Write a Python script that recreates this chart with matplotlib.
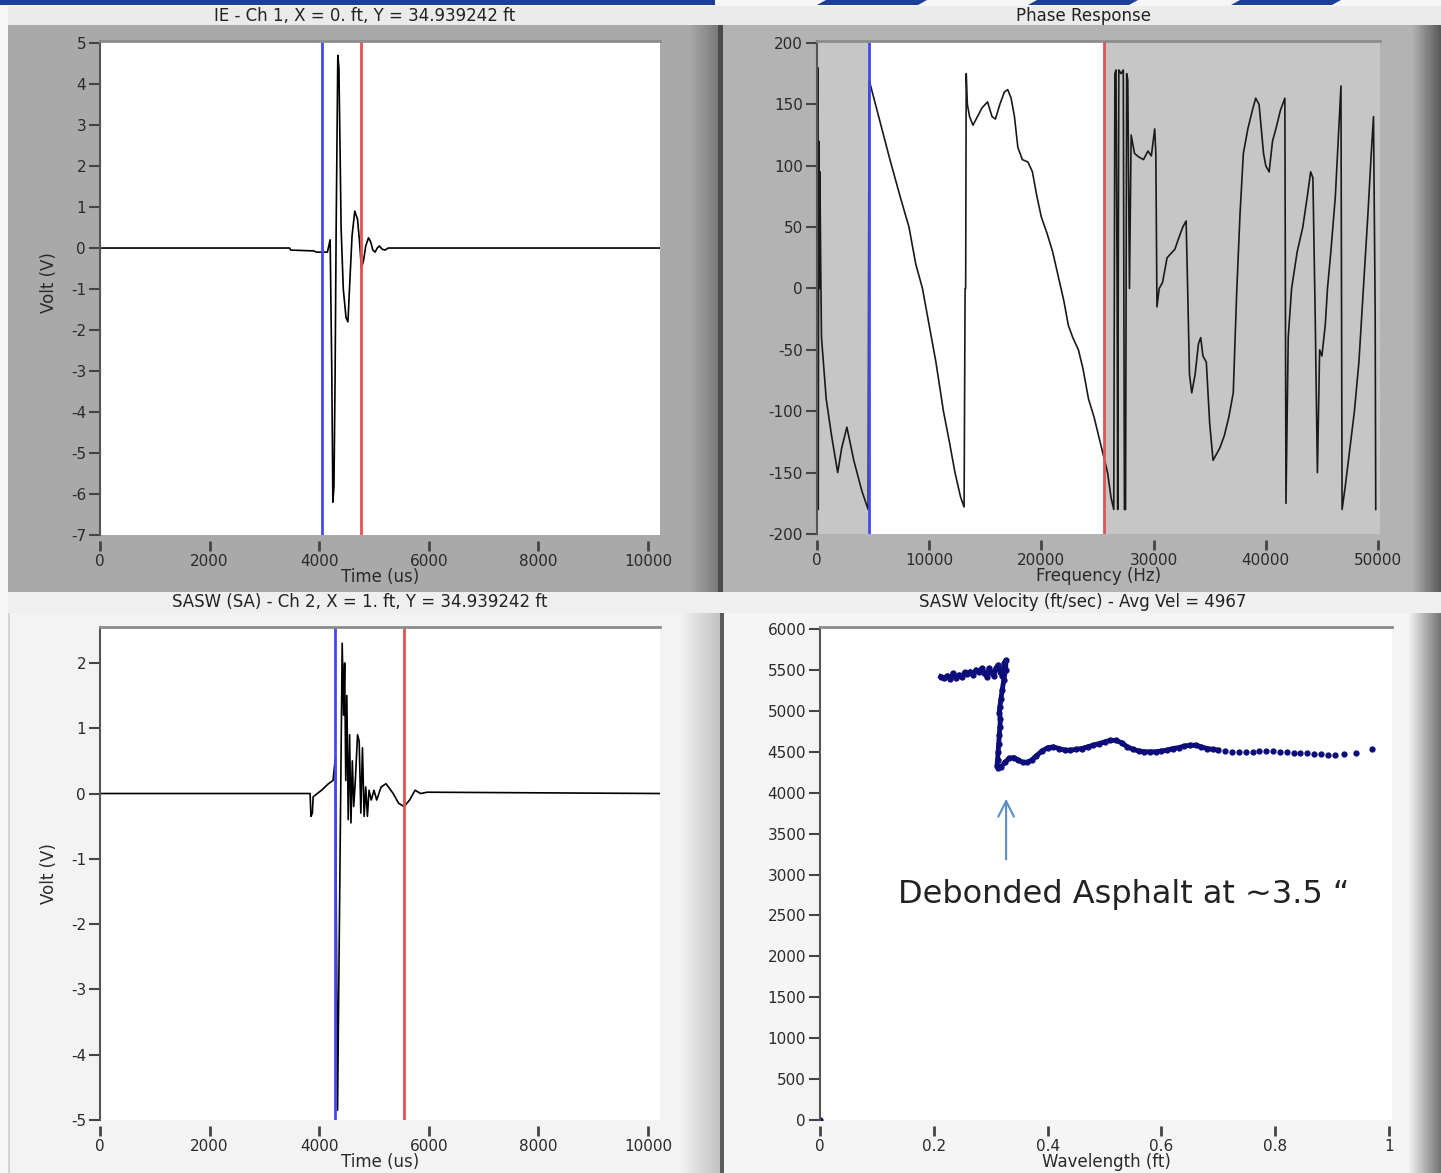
import matplotlib
matplotlib.use('Agg')
import matplotlib.pyplot as plt
from matplotlib.patches import Rectangle, Polygon
import numpy as np

plt.rcParams['axes.unicode_minus'] = False

W, H = 1441, 1173

# ---- top-left: IE channel 1 waveform (time us, volts)
ie_time = [0, 3460, 3480, 3900, 3950, 4150, 4200, 4230, 4250, 4270, 4290, 4310, 4340, 4360,
           4380, 4400, 4440, 4490, 4525, 4560, 4600, 4650, 4700, 4740, 4770, 4810, 4850,
           4900, 4940, 4980, 5020, 5060, 5100, 5150, 5200, 5260, 10220]
ie_volt = [0, 0, -0.05, -0.07, -0.1, -0.1, 0.2, -3.0, -6.2, -5.8, -3.2, 0.5, 4.7, 4.4,
           2.5, 0.5, -1.0, -1.7, -1.8, -0.8, 0.3, 0.9, 0.7, 0.1, -0.5, -0.3, 0.05,
           0.25, 0.15, -0.05, -0.1, 0.0, 0.05, -0.03, -0.05, 0.0, 0.0]
ie_cursors = [4051, 4763]

# ---- top-right: phase response (Hz, degrees)
ph_freq = [0, 60, 110, 160, 210, 260, 330, 400, 820, 1300, 1844, 2200, 2664, 3278, 4000, 4560,
           4640, 5500, 6500, 7500, 8200, 8800, 9400, 10000, 10600, 11270, 11800, 12300, 12800, 13110,
           13200, 13250, 13300, 13400, 13600, 13900, 14300, 14700, 15200, 15600, 15900, 16300,
           16700, 17000, 17300, 17600, 17900, 18300, 18800, 19200, 19600, 20000, 20500, 21000,
           21500, 22000, 22400, 22800, 23300, 23700, 24200, 24700, 25100, 25500, 25900, 26200,
           26450, 26550, 26650, 26750, 26800, 26900, 27100, 27300, 27400, 27500, 27600, 27700,
           27850, 28000, 28300, 28700, 29100, 29500, 29800, 30100, 30200, 30300, 30500, 30800,
           31200, 31500, 31900, 32200, 32600, 32900, 33000, 33200, 33400, 33700, 34000, 34200,
           34400, 34700, 35000, 35300, 35600, 35900, 36300, 36700, 37100, 37400, 37700, 38000,
           38400, 38800, 39100, 39400, 39600, 39800, 40000, 40300, 40600, 40900, 41300, 41700,
           41800, 42000, 42300, 42800, 43300, 43700, 44000, 44200, 44400, 44600, 44800, 45000,
           45300, 45500, 45800, 46200, 46500, 46700, 46800, 47100, 47500, 47900, 48300, 48700,
           49100, 49400, 49600, 49750, 49800]
ph_deg = [0, 180, -180, 120, 0, 95, 20, -40, -90, -120, -150, -130, -113, -140, -165, -180,
          170, 140, 105, 72, 50, 20, 0, -30, -60, -100, -125, -150, -170, -178,
          0, 0, 175, 150, 140, 133, 140, 147, 152, 140, 138, 150,
          160, 162, 155, 140, 115, 105, 103, 95, 75, 58, 45, 30,
          10, -10, -30, -40, -50, -65, -90, -105, -120, -135, -150, -170,
          -180, 175, 178, 0, -180, 178, 175, 178, -180, -180, 175, 170,
          0, 125, 110, 107, 105, 112, 108, 130, 110, -15, 0, 5,
          25, 28, 32, 40, 50, 55, 15, -70, -85, -70, -45, -40,
          -55, -60, -110, -140, -135, -130, -120, -105, -85, -5, 60, 110,
          130, 145, 155, 150, 130, 110, 100, 95, 120, 130, 145, 155,
          -175, -40, 0, 30, 50, 75, 95, 90, -20, -150, -50, -55,
          -30, 0, 30, 75, 130, 165, -180, -160, -130, -100, -60, 0,
          60, 110, 140, -20, -180]
ph_cursors = [4635, 25580]

# ---- bottom-left: SASW channel 2 waveform
sa_time = [0, 3834, 3850, 3876, 3890, 4043, 4169, 4253, 4295, 4320, 4335, 4420, 4445, 4465,
           4485, 4505, 4530, 4555, 4580, 4605, 4630, 4660, 4700, 4730, 4760, 4790, 4820,
           4850, 4880, 4910, 4950, 5000, 5050, 5130, 5220, 5350, 5450, 5550, 5650, 5750,
           5850, 5970, 10220]
sa_volt = [0, 0, -0.35, -0.3, -0.05, 0.05, 0.15, 0.2, 0.55, -2.8, -4.85, 2.3, 1.2, 2.0,
           0.2, 1.5, -0.4, 0.9, -0.45, 0.5, -0.2, 0.2, 0.9, 0.8, -0.3, 0.7, -0.35,
           0.1, -0.35, 0.05, -0.1, 0.05, -0.1, 0.1, 0.15, 0.0, -0.15, -0.2, -0.1, 0.05,
           0.0, 0.02, 0.0]
sa_cursors = [4288, 5547]

# ---- bottom-right: SASW dispersion (wavelength ft, velocity ft/s)
wl = [0.0, 0.212, 0.218, 0.224, 0.229, 0.234, 0.239, 0.244, 0.249, 0.254, 0.259, 0.264, 0.269,
      0.274, 0.279, 0.284, 0.289, 0.293, 0.297, 0.301, 0.305, 0.309, 0.313, 0.317, 0.320,
      0.324, 0.327, 0.326, 0.323, 0.320, 0.318, 0.316, 0.315, 0.317, 0.316, 0.315, 0.314,
      0.313, 0.312, 0.311, 0.313, 0.318, 0.325, 0.332, 0.340, 0.348, 0.356, 0.364, 0.372,
      0.380, 0.390, 0.400, 0.410, 0.420, 0.430, 0.440, 0.450, 0.460, 0.470, 0.480, 0.490,
      0.500, 0.510, 0.520, 0.530, 0.540, 0.550, 0.560, 0.570, 0.580, 0.590, 0.600, 0.610,
      0.620, 0.630, 0.640, 0.650, 0.660, 0.670, 0.680, 0.690, 0.700, 0.712, 0.724, 0.736,
      0.748, 0.760, 0.772, 0.784, 0.796, 0.808, 0.820, 0.832, 0.844, 0.856, 0.868, 0.880,
      0.892, 0.904, 0.920, 0.942, 0.970]
vel = [0, 5420, 5400, 5430, 5390, 5460, 5400, 5440, 5410, 5470, 5450, 5480, 5440,
       5500, 5470, 5520, 5460, 5420, 5520, 5470, 5430, 5520, 5560, 5480, 5430,
       5580, 5620, 5500, 5380, 5250, 5150, 5050, 4980, 4900, 4800, 4700, 4600,
       4500, 4400, 4330, 4300, 4320, 4370, 4420, 4430, 4400, 4370, 4370, 4400,
       4450, 4510, 4550, 4560, 4540, 4520, 4520, 4530, 4540, 4560, 4580, 4600,
       4620, 4640, 4640, 4610, 4560, 4530, 4510, 4500, 4500, 4500, 4510, 4520,
       4540, 4550, 4570, 4580, 4580, 4560, 4540, 4530, 4520, 4510, 4500, 4500,
       4500, 4500, 4510, 4510, 4510, 4500, 4500, 4490, 4490, 4480, 4470, 4470,
       4460, 4460, 4470, 4480, 4540]

fig = plt.figure(figsize=(W / 100, H / 100), dpi=100)
fig.patch.set_facecolor('#f6f6f6')

# background layer in pixel coordinates for the LabVIEW style panels
bg = fig.add_axes([0, 0, 1, 1], zorder=-5)
bg.axis('off')
def box(x, y, w, h, c):
    bg.add_patch(Rectangle((x, y), w, h, facecolor=c, edgecolor='none', zorder=1))

def shade(x0, x1, y0, y1, g0, g1):
    # horizontal grey ramp, g0 -> g1 (0 black .. 1 white)
    bg.imshow(np.linspace(g0, g1, 64)[None, :], extent=(x0, x1, y1, y0), zorder=2,
              cmap='gray', vmin=0, vmax=1, aspect='auto', interpolation='bilinear')

box(0, 0, 715, 5, '#1c3f97')
for x0 in [826, 1037, 1240]:
    bg.add_patch(Polygon([(x0, 0), (x0 + 101, 0), (x0 + 92, 5), (x0 - 9, 5)],
                         facecolor='#1c3f97', edgecolor='none'))
box(8, 6, 1433, 19, '#ebebeb')
box(8, 592, 1433, 21, '#efefef')
# top panels
box(8, 25, 712, 567, '#a9a9a9')
shade(690, 718, 25, 592, 0.66, 0.48)
box(718, 25, 5, 567, '#4a4a4a')
box(723, 25, 718, 567, '#b3b3b3')
shade(1412, 1441, 25, 592, 0.70, 0.35)
# bottom panels
box(8, 613, 712, 560, '#f3f3f3')
box(8, 613, 2, 560, '#d4d4d4')
shade(680, 720, 613, 1173, 0.95, 0.76)
box(720, 613, 4, 560, '#5a5a5a')
box(724, 613, 717, 560, '#f5f5f5')
shade(1408, 1441, 613, 1173, 0.96, 0.45)
bg.set_xlim(0, W)
bg.set_ylim(H, 0)

def px_axes(left, top, right, bottom):
    return fig.add_axes([left / W, 1 - bottom / H, (right - left) / W, (bottom - top) / H])

def style(ax):
    ax.spines['right'].set_visible(False)
    ax.spines['bottom'].set_visible(False)
    ax.spines['bottom'].set_position(('outward', 4))
    ax.spines['top'].set_color('#8c8c8c')
    ax.spines['top'].set_linewidth(2)
    ax.spines['left'].set_color('#555555')
    ax.spines['left'].set_linewidth(1.5)
    ax.tick_params(axis='y', direction='out', length=8, width=1.5, color='#444444',
                   labelsize=11, labelcolor='#2a2a2a', pad=2)
    ax.tick_params(axis='x', direction='out', length=7, width=2, color='#444444',
                   labelsize=11, labelcolor='#2a2a2a', pad=3)

label_font = dict(fontsize=12, color='#2a2a2a')
title_font = dict(fontsize=12, color='#222222', ha='center', va='center')

# ---- IE waveform
ax1 = px_axes(100, 41, 660, 535)
style(ax1)
ax1.set_facecolor('white')
ax1.plot(ie_time, ie_volt, color='black', lw=1.2)
ax1.axvline(ie_cursors[0], color='#4646f5', lw=2)
ax1.axvline(ie_cursors[1], color='#e65050', lw=2)
ax1.set_xlim(0, 10220)
ax1.set_ylim(-7, 5.05)
ax1.set_xticks(range(0, 10001, 2000))
ax1.set_yticks(range(-7, 6))
ax1.set_xlabel('Time (us)', labelpad=-1, **label_font)
ax1.set_ylabel('Volt (V)', **label_font)
ax1.yaxis.set_label_coords(-0.075, 0.51)

# ---- phase response
ax2 = px_axes(817, 41, 1380, 534)
style(ax2)
ax2.set_facecolor('#c6c6c6')
ax2.axvspan(ph_cursors[0], ph_cursors[1], color='white', zorder=0)
ax2.plot(ph_freq, ph_deg, color='#1a1a1a', lw=1.2)
ax2.axvline(ph_cursors[0], color='#4646f5', lw=2)
ax2.axvline(ph_cursors[1], color='#e65050', lw=2)
ax2.set_xlim(0, 50180)
ax2.set_ylim(-200, 201.6)
ax2.set_xticks(range(0, 50001, 10000))
ax2.set_yticks(range(-200, 201, 50))
ax2.set_xlabel('Frequency (Hz)', labelpad=-1, **label_font)

# ---- SASW waveform
ax3 = px_axes(100, 627, 660, 1120)
style(ax3)
ax3.set_facecolor('white')
ax3.plot(sa_time, sa_volt, color='black', lw=1.2)
ax3.axvline(sa_cursors[0], color='#4646f5', lw=2)
ax3.axvline(sa_cursors[1], color='#e65050', lw=2)
ax3.set_xlim(0, 10220)
ax3.set_ylim(-5, 2.55)
ax3.set_xticks(range(0, 10001, 2000))
ax3.set_yticks(range(-5, 3))
ax3.set_xlabel('Time (us)', labelpad=-1, **label_font)
ax3.set_ylabel('Volt (V)', **label_font)
ax3.yaxis.set_label_coords(-0.075, 0.5)

# ---- SASW velocity
ax4 = px_axes(820, 627, 1392, 1120)
style(ax4)
ax4.set_facecolor('white')
ax4.plot(wl[1:82], vel[1:82], color='#0c0c7a', lw=3.5)
ax4.plot(wl, vel, 'o', color='#0c0c7a', ms=3.5)
ax4.set_xlim(0, 1.005)
ax4.set_ylim(0, 6025)
ax4.set_xticks([0, 0.2, 0.4, 0.6, 0.8, 1])
ax4.set_xticklabels(['0', '0.2', '0.4', '0.6', '0.8', '1'])
ax4.set_yticks(range(0, 6001, 500))
ax4.set_xlabel('Wavelength (ft)', labelpad=-1, **label_font)
ax4.annotate('', xy=(0.327, 3960), xytext=(0.327, 3150),
             arrowprops=dict(arrowstyle='->', color='#5b8bc8', lw=1.5, mutation_scale=28))
ax4.text(0.533, 2750, 'Debonded Asphalt at ~3.5 \u201c', ha='center', va='center',
         fontsize=23, color='#222222')

# panel titles
fig.text(365 / W, 1 - 16 / H, 'IE - Ch 1, X = 0. ft, Y = 34.939242 ft', **title_font)
fig.text(1083 / W, 1 - 16 / H, 'Phase Response', **title_font)
fig.text(360 / W, 1 - 602 / H, 'SASW (SA) - Ch 2, X = 1. ft, Y = 34.939242 ft', **title_font)
fig.text(1083 / W, 1 - 602 / H, 'SASW Velocity (ft/sec) - Avg Vel = 4967', **title_font)

fig.savefig('out.png', dpi=100, facecolor=fig.get_facecolor())
